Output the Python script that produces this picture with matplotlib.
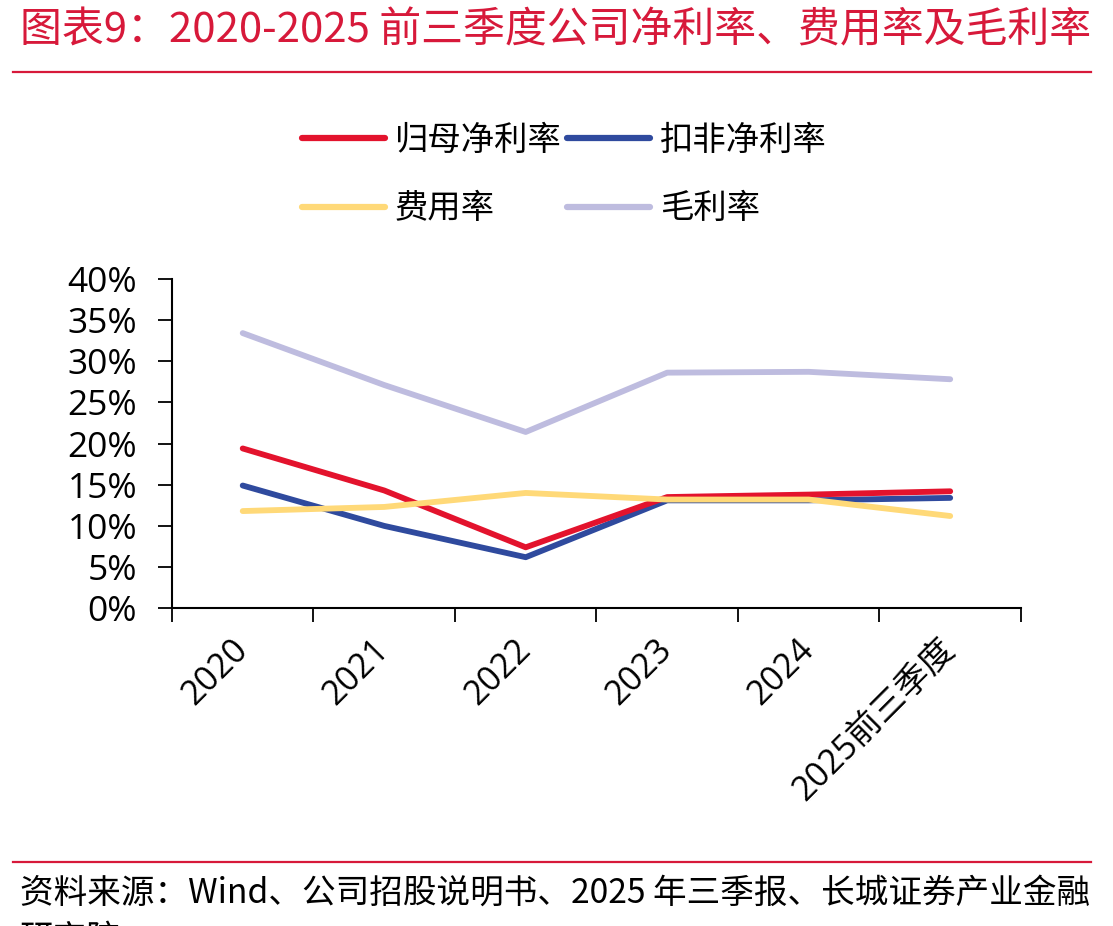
import matplotlib
matplotlib.use("Agg")
import matplotlib.pyplot as plt
from matplotlib.lines import Line2D
from matplotlib.ticker import FixedLocator, PercentFormatter

plt.rcParams['font.family'] = ['Open Sans', 'Noto Sans CJK SC', 'DejaVu Sans']

# 数据（%）
years = ['2020', '2021', '2022', '2023', '2024', '2025前三季度']
net_margin = [19.4, 14.3, 7.4, 13.5, 13.8, 14.2]        # 归母净利率
net_margin_adj = [14.9, 10.0, 6.2, 13.1, 13.1, 13.4]    # 扣非净利率
expense_ratio = [11.8, 12.3, 14.0, 13.2, 13.2, 11.2]    # 费用率
gross_margin = [33.4, 27.1, 21.4, 28.6, 28.7, 27.8]     # 毛利率

c_red = '#E3132D'
c_blue = '#2F4A9E'
c_yellow = '#FFD978'
c_lav = '#BEBCDF'
c_title = '#D7193A'

fig = plt.figure(figsize=(11.13, 9.26), dpi=100)
ax = fig.add_axes([0.1545, 0.3431, 0.7628, 0.3559])

x = list(range(len(years)))
lw = 4.2
ax.plot(x, net_margin, color=c_red, lw=lw, solid_capstyle='round', zorder=4)
ax.plot(x, net_margin_adj, color=c_blue, lw=lw, solid_capstyle='round', zorder=3)
ax.plot(x, expense_ratio, color=c_yellow, lw=lw, solid_capstyle='round', zorder=5)
ax.plot(x, gross_margin, color=c_lav, lw=lw, solid_capstyle='round', zorder=2)

ax.set_xlim(-0.5, len(years) - 0.5)
ax.set_ylim(0, 40)
ax.yaxis.set_major_locator(FixedLocator(range(0, 41, 5)))
ax.yaxis.set_major_formatter(PercentFormatter(decimals=0))

ax.xaxis.set_major_locator(FixedLocator([i - 0.5 for i in range(len(years) + 1)]))
ax.set_xticklabels([])
ax.set_xticks(x, minor=True)
ax.set_xticklabels(years, minor=True, rotation=45, ha='right', va='center',
                   rotation_mode='anchor')
ax.tick_params(axis='x', which='minor', length=0, labelsize=24.5, pad=26)
ax.tick_params(axis='x', which='major', length=10, width=1.3, direction='out')
ax.tick_params(axis='y', length=10, width=1.3, direction='out', labelsize=25.5, pad=15)

for s in ['top', 'right']:
    ax.spines[s].set_visible(False)
for s in ['left', 'bottom']:
    ax.spines[s].set_linewidth(1.5)

# 图例
handles = [Line2D([], [], color=c, lw=4.5, solid_capstyle='round')
           for c in (c_red, c_yellow, c_blue, c_lav)]
labels = ['归母净利率', '费用率', '扣非净利率', '毛利率']
fig.legend(handles, labels, ncol=2, loc='center', bbox_to_anchor=(0.507, 0.8115),
           frameon=False, handlelength=2.5, handletextpad=0.3,
           columnspacing=0.15, labelspacing=1.0,
           prop={'family': ['Noto Sans CJK SC'], 'size': 24})

# 标题与来源
fig.text(0.018, 0.967, '图表9：2020-2025 前三季度公司净利率、费用率及毛利率',
         color=c_title, fontsize=30.2, style='italic', va='center', ha='left',
         family=['Noto Sans CJK SC', 'DejaVu Sans'])
fig.add_artist(Line2D([0.012, 0.98], [0.9225, 0.9225], color=c_title, lw=1.6))
fig.add_artist(Line2D([0.012, 0.98], [0.0695, 0.0695], color=c_title, lw=1.6))
fig.text(0.018, 0.035, '资料来源：Wind、公司招股说明书、2025 年三季报、长城证券产业金融',
         color='black', fontsize=24.2, style='italic', va='center', ha='left',
         family=['Noto Sans CJK SC', 'DejaVu Sans'])
fig.text(0.018, 0.004, '研究院', color='black', fontsize=24.2, va='top', ha='left',
         family=['Noto Sans CJK SC', 'DejaVu Sans'])

fig.savefig('out.png', dpi=100)
